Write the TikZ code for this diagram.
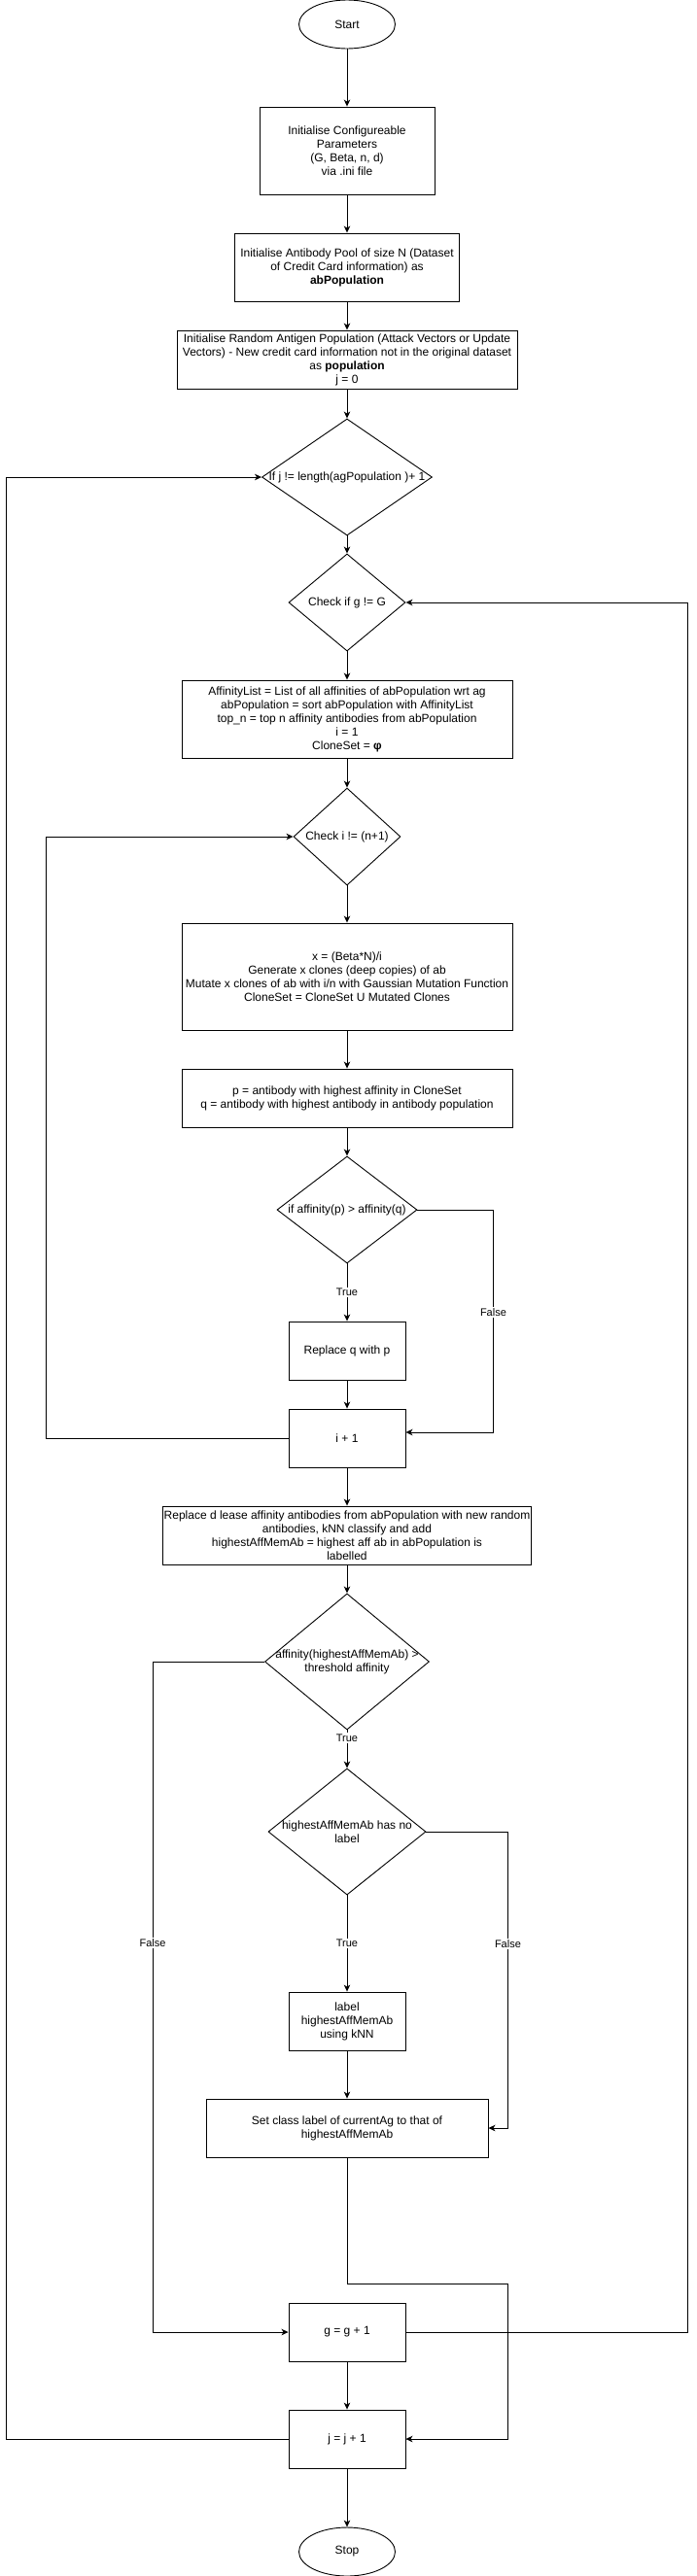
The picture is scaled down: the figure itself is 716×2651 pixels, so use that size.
\documentclass[tikz,border=0pt]{standalone}
\usepackage{fontspec}
\setmainfont{Liberation Sans}
\usetikzlibrary{shapes.geometric,arrows.meta}

\begin{document}
\begin{tikzpicture}[x=1pt, y=-1pt, line width=0.9pt,
	font=\fontsize{12}{14}\selectfont,
	every node/.style={align=center, inner sep=0pt},
	box/.style 2 args={draw, rectangle, minimum width=#1, minimum height=#2},
	term/.style={draw, ellipse, minimum width=99, minimum height=50},
	decision/.style 2 args={draw, diamond, minimum width=#1, minimum height=#2},
	lbl/.style={fill=white, inner sep=1.5pt, font=\fontsize{11}{13}\selectfont},
	>={Stealth[length=7pt, width=6.5pt, inset=2pt]}]
\useasboundingbox (0,0) rectangle (716,2651);

\node[term] (start) at (357,25) {Start};
\node[box={180}{90}] (init) at (357,155) {Initialise Configureable\\Parameters\\(G, Beta, n, d)\\via .ini file};
\node[box={231}{70}] (pool) at (357,275) {Initialise Antibody Pool of size N (Dataset\\of Credit Card information) as\\\textbf{abPopulation}};
\node[box={350}{60}] (antigen) at (357,370) {Initialise Random Antigen Population (Attack Vectors or Update\\Vectors) - New credit card information not in the original dataset\\as \textbf{population}\\j = 0};
\node[decision={175}{120}, label={center:{If j != length(agPopulation )+ 1}}] (checkj) at (357,491) {};
\node[decision={120}{100}, label={center:{Check if g != G}}] (checkg) at (357,620) {};
\node[box={340}{80}] (affinity) at (357,740) {AffinityList = List of all affinities of abPopulation wrt ag\\abPopulation = sort abPopulation with AffinityList\\top\_n = top n affinity antibodies from abPopulation\\i = 1\\CloneSet = \textbf{φ}};
\node[decision={110}{100}, label={center:{Check i != (n+1)}}] (checki) at (357,861) {};
\node[box={340}{110}] (clone) at (357,1005) {x = (Beta*N)/i\\Generate x clones (deep copies) of ab\\Mutate x clones of ab with i/n with Gaussian Mutation Function\\CloneSet = CloneSet U Mutated Clones};
\node[box={340}{60}] (best) at (357,1130) {p = antibody with highest affinity in CloneSet\\q = antibody with highest antibody in antibody population};
\node[decision={144}{110}, label={center:{if affinity(p) > affinity(q)}}] (compare) at (357,1245) {};
\node[box={120}{60}] (replace) at (357,1390) {Replace q with p};
\node[box={120}{60}] (inci) at (357,1480) {i + 1};
\node[box={379}{60}] (renew) at (357,1580) {Replace d lease affinity antibodies from abPopulation with new random\\antibodies, kNN classify and add\\highestAffMemAb = highest aff ab in abPopulation is\\labelled};
\node[decision={169}{140}, label={[align=center]center:{affinity(highestAffMemAb) >\\threshold affinity}}] (threshold) at (357,1710) {};
\node[decision={162}{130}, label={[align=center]center:{highestAffMemAb has no\\label}}] (nolabel) at (357,1885) {};
\node[box={120}{60}] (knn) at (357,2080) {label\\highestAffMemAb\\using kNN};
\node[box={290}{60}] (setclass) at (357,2190) {Set class label of currentAg to that of\\highestAffMemAb};
\node[box={120}{60}] (incg) at (357,2400) {g = g + 1};
\node[box={120}{60}] (incj) at (357,2510) {j = j + 1};
\node[term] (stop) at (357,2626) {Stop};
\coordinate (join) at (522,2350);

\path[->]
(start) edge (init)
(init) edge (pool)
(pool) edge (antigen)
(antigen) edge (checkj)
(checkj) edge (checkg)
(checkg) edge (affinity)
(affinity) edge (checki)
(checki) edge (clone)
(clone) edge (best)
(best) edge (compare)
(compare) edge node [lbl] {True} (replace)
(replace) edge (inci)
(inci) edge (renew)
(renew) edge (threshold)
(threshold) edge node [lbl, pos=0.2] {True} (nolabel)
(nolabel) edge node [lbl] {True} (knn)
(knn) edge (setclass)
(incg) edge (incj)
(incj) edge (stop)
;
\draw[->] (compare.east) -- ++(78,0) |- node [lbl, pos=0.23] {False} ([yshift=6pt]inci.east);
\draw[->] (inci.west) -- ++(-249,0) |- (checki.west);
\draw[->] (threshold.west) -- ++(-115,0) |- node [lbl, pos=0.21] {False} (incg.west);
\draw[->] (nolabel.east) -- ++(84,0) |- node [lbl, pos=0.19] {False} (setclass.east);
\draw[->] (setclass.south) |- (join) |- (incj.east);
\draw[->] (incg.east) -- ++(290,0) |- (checkg.east);
\draw[->] (incj.west) -- ++(-290,0) |- (checkj.west);
\end{tikzpicture}
\end{document}
